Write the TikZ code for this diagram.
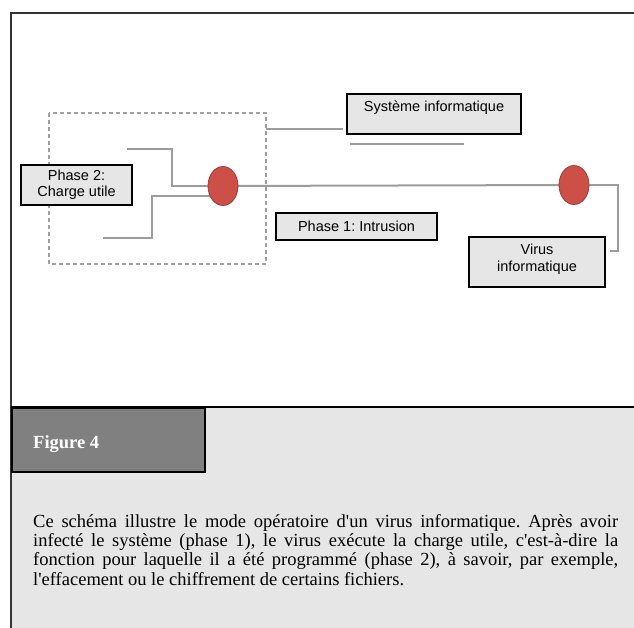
\documentclass[tikz,border=0pt]{standalone}
\usepackage{fontspec}
\setmainfont{Liberation Serif}
\newfontfamily\sansf{Liberation Sans}
\usetikzlibrary{shapes.geometric,backgrounds}
\definecolor{boxfill}{HTML}{E6E6E6}
\definecolor{wirec}{HTML}{9C9C9C}
\definecolor{dashc}{HTML}{A0A0A0}
\definecolor{dotc}{HTML}{CD5048}
\definecolor{dotedge}{HTML}{9E3C35}
\definecolor{capfill}{HTML}{E6E6E6}
\definecolor{figfill}{HTML}{808080}
\begin{document}
\frenchspacing
\begin{tikzpicture}[x=1pt,y=-1pt,
  lbl/.style={draw=black, line width=1.6pt, fill=boxfill, font=\sansf\fontsize{14.5}{16.5}\selectfont, align=center, inner sep=0pt},
  wire/.style={draw=wirec, line width=2pt},
  dot/.style={ellipse, draw=dotedge, line width=0.8pt, fill=dotc, minimum width=30pt, minimum height=39pt, inner sep=0pt}]
\useasboundingbox (0,0) rectangle (634,628);
% caption area and frame
\fill[capfill] (11,407) rectangle (634,628);
\draw[line width=2pt, draw=black!80] (634,13) -- (11,13) -- (11,628);
\draw[line width=2pt] (11,407) -- (634,407);
\node[draw=black, line width=1.5pt, fill=figfill, minimum width=193pt, minimum height=64pt, anchor=north west, inner sep=0pt] (fig) at (11,407) {};
\node[anchor=base west, text=white, font=\bfseries\fontsize{18.5}{20}\selectfont, inner sep=0pt] (figt) at (33,448) {Figure 4};
\node[anchor=north west, inner sep=0pt, text width=585pt, align=justify, font=\fontsize{18.5}{19.3}\selectfont] (cap) at (33,514) {Ce schéma illustre le mode opératoire d\textquotesingle un virus informatique. Après avoir\linebreak infecté le système (phase 1), le virus exécute la charge utile, c\textquotesingle est-à-dire la\linebreak fonction pour laquelle il a été programmé (phase 2), à savoir, par exemple,\linebreak l\textquotesingle effacement ou le chiffrement de certains fichiers.};
% diagram
\draw[draw=dashc, line width=1.4pt, dash pattern=on 4pt off 3pt] (49,113) rectangle (266,264);
\node[dot] (e1) at (223,186) {};
\node[dot] (e2) at (574,185) {};
\node[lbl, minimum width=111pt, minimum height=40pt] (ph2) at (76.5,185) {Phase 2:\\Charge utile};
\node[lbl, minimum width=161pt, minimum height=27pt] (ph1) at (356.5,226.5) {Phase 1: Intrusion};
\node[lbl, minimum width=174pt, text height=18pt, text depth=22pt, anchor=north] (sys) at (434,93) {Système informatique};
\node[lbl, minimum width=136pt, minimum height=50pt] (vir) at (537,262) {Virus\\informatique\\[-8pt]\mbox{}};
\coordinate (a1) at (127,149);
\coordinate (a2) at (103,238);
\coordinate (s1) at (266,129);
\coordinate (s2) at (343,129);
\coordinate (u1) at (350,144);
\coordinate (u2) at (464,144);
\coordinate (r1) at (618,251);
\coordinate (r2) at (610,251);
\begin{scope}[on background layer]
\fill[white] (0,0) rectangle (634,628);
\draw[wire] (a1) -| (172,186) -- (e1.center);
\draw[wire] (a2) -| (152,196) -- ([yshift=-10pt]e1.center);
\draw[wire] (e1.center) -- (e2.center);
\draw[wire] (e2.center) -| (r1) -- (r2);
\draw[wire, line width=1.5pt] (s1) -- (s2);
\draw[wire, line width=1.5pt] (u1) -- (u2);
\end{scope}
\end{tikzpicture}
\end{document}
